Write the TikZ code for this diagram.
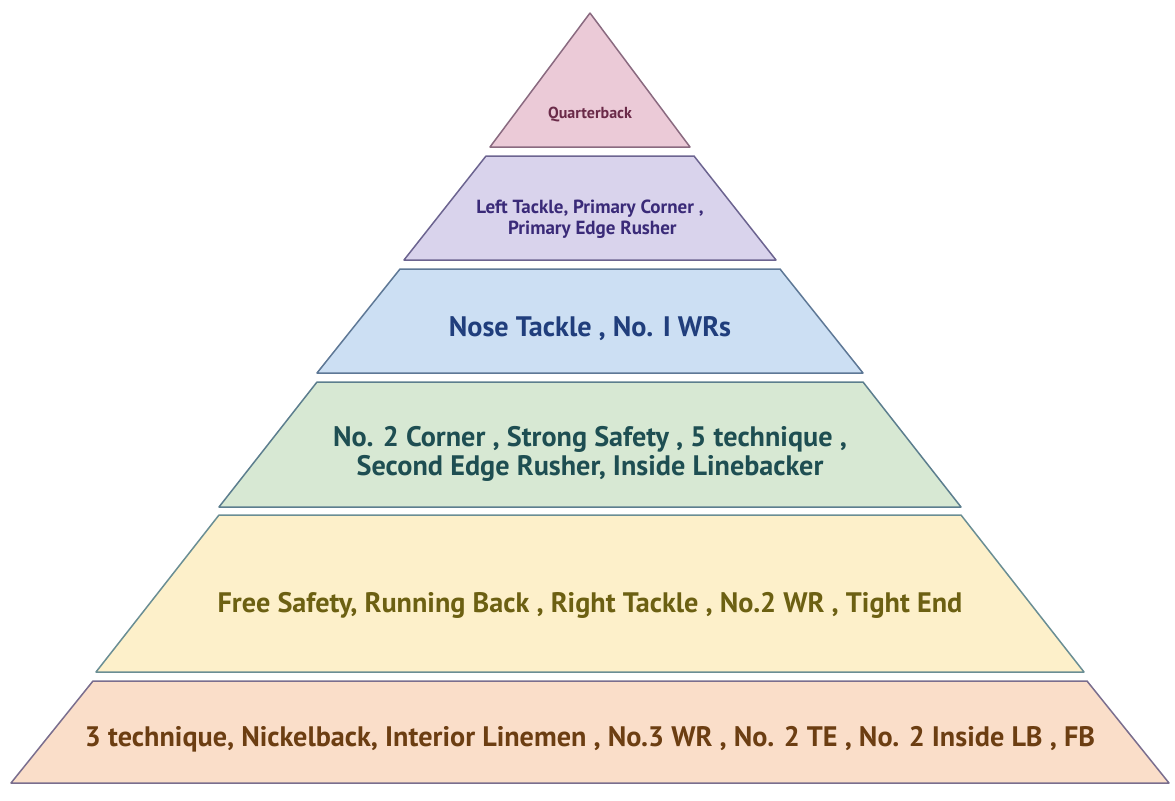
\documentclass[tikz,border=0pt]{standalone}
\usepackage{fontspec}
\setmainfont{PT Sans}
\usepackage{xcolor}
\definecolor{PinkFill}{HTML}{EBCAD7}
\definecolor{PinkLine}{HTML}{8A6A80}
\definecolor{PinkText}{HTML}{6A2A48}
\definecolor{PurpleFill}{HTML}{D9D3EC}
\definecolor{PurpleLine}{HTML}{6C6490}
\definecolor{PurpleText}{HTML}{3A2A78}
\definecolor{BlueFill}{HTML}{CCDFF3}
\definecolor{BlueLine}{HTML}{5E7896}
\definecolor{BlueText}{HTML}{203E7C}
\definecolor{GreenFill}{HTML}{D7E8D3}
\definecolor{GreenLine}{HTML}{5C7E8E}
\definecolor{GreenText}{HTML}{1E4E52}
\definecolor{YellowFill}{HTML}{FDF0CA}
\definecolor{YellowLine}{HTML}{6A8E94}
\definecolor{YellowText}{HTML}{6C6012}
\definecolor{OrangeFill}{HTML}{FADEC9}
\definecolor{OrangeLine}{HTML}{7A6E8E}
\definecolor{OrangeText}{HTML}{6C3E12}
\usepackage{tikz}

\begin{document}
\begin{tikzpicture}[x=0.5pt,y=-0.5pt,
		layer/.style={line width=0.75pt, line join=round},
		label/.style={align=center, inner sep=0pt},
		big/.style={font=\fontsize{14.1}{14.5}\selectfont\bfseries}]
		\useasboundingbox (0,0) rectangle (1175,800);
		\def\cx{590} % centre line of the pyramid
		
		% top triangle
		\filldraw[layer, draw=PinkLine, fill=PinkFill] (\cx,13) -- ({\cx+100},147) -- ({\cx-100},147) -- cycle;
		
		% trapezoids: top y / top half width / bottom y / bottom half width / colour
		\foreach \ty/\tw/\by/\bw/\col in {156/104/260/186/Purple, 269/190/373/273/Blue, 382/273/507/371/Green, 515/371/672/494/Yellow, 681/497/783/579/Orange}{
			\filldraw[layer, draw=\col Line, fill=\col Fill] ({\cx-\tw},\ty) -- ({\cx+\tw},\ty) -- ({\cx+\bw},\by) -- ({\cx-\bw},\by) -- cycle;
		}
		
		\node[label, text=PinkText, font=\fontsize{8}{9}\selectfont\bfseries] (qb) at (\cx,115) {Quarterback};
		\node[label, text=PurpleText, font=\fontsize{9.5}{10.5}\selectfont\bfseries] (tier2) at (\cx,219) {Left Tackle, Primary Corner ,\\ \ Primary Edge Rusher};
		\node[label, big, text=BlueText] (tier3) at (\cx,329) {Nose Tackle , No. I WRs};
		\node[label, big, text=GreenText] (tier4) at (\cx,454) {No. 2 Corner , Strong Safety , 5 technique ,\\Second Edge Rusher, Inside Linebacker};
		\node[label, big, text=YellowText] (tier5) at (\cx,605) {Free Safety, Running Back , Right Tackle , No.2 WR , Tight End};
		\node[label, big, text=OrangeText] (tier6) at (\cx,739) {3 technique, Nickelback, Interior Linemen , No.3 WR , No. 2 TE , No. 2 Inside LB , FB};
		
	\end{tikzpicture}
\end{document}
